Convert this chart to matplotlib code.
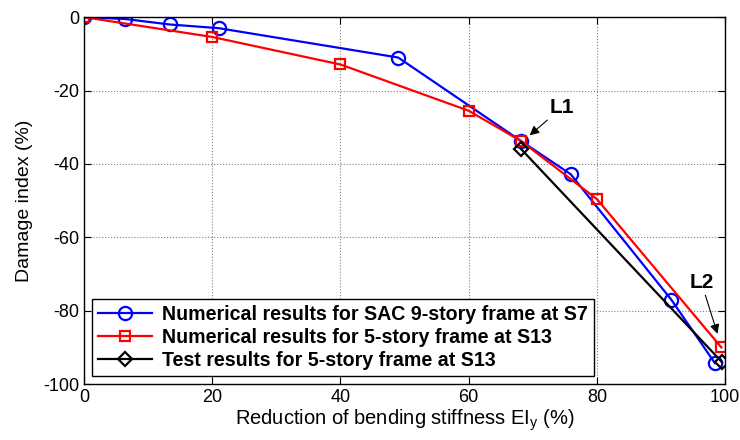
import matplotlib
matplotlib.use("Agg")
import matplotlib.pyplot as plt

plt.rcParams['font.family'] = ['Liberation Sans', 'DejaVu Sans']
plt.rcParams['axes.unicode_minus'] = False

# Data
sac_x = [0, 6.4, 13.4, 21, 49, 68.2, 75.9, 91.6, 98.4]
sac_y = [0, -0.5, -2, -3, -11, -33.8, -42.8, -77, -94.3]
five_x = [0, 20, 40, 60, 68.2, 80, 99.4]
five_y = [0, -5.4, -12.9, -25.5, -33.8, -49.6, -90]
test_x = [68.2, 99.5]
test_y = [-36, -94]
labels = ["Numerical results for SAC 9-story frame at S7",
          "Numerical results for 5-story frame at S13",
          "Test results for 5-story frame at S13"]
xticks = [0, 20, 40, 60, 80, 100]
yticks = [0, -20, -40, -60, -80, -100]

fig = plt.figure(figsize=(7.4, 4.4), dpi=100)
ax = fig.add_axes([0.1135, 0.127, 0.8665, 0.834])

ax.plot(sac_x, sac_y, color='blue', lw=1.6, marker='o', ms=9.5, mfc='none',
        mec='blue', mew=1.6, label=labels[0])
ax.plot(five_x, five_y, color='red', lw=1.6, marker='s', ms=7.5, mfc='none',
        mec='red', mew=1.6, label=labels[1])
ax.plot(test_x, test_y, color='black', lw=1.6, marker='D', ms=7, mfc='none',
        mec='black', mew=1.6, label=labels[2])

ax.set_xlim(0, 100)
ax.set_ylim(-100, 0)
ax.set_xticks(xticks)
ax.set_yticks(yticks)
ax.tick_params(direction='in', top=True, right=True, labelsize=13, length=5)
ax.grid(True, linestyle=':', color='gray', lw=0.8)
for s in ax.spines.values():
    s.set_linewidth(1.0)

ax.set_xlabel("Reduction of bending stiffness EI$_\\mathregular{y}$ (%)", fontsize=14.5, labelpad=1)
ax.set_ylabel("Damage index (%)", fontsize=14, labelpad=7)

ax.annotate("L1", xy=(69.5, -32.2), xytext=(74.5, -27.3), fontsize=15, fontweight='bold',
            ha='center', va='bottom',
            arrowprops=dict(arrowstyle='-|>', color='black', lw=0.8, mutation_scale=14,
                            shrinkA=0, shrinkB=0))
ax.annotate("L2", xy=(98.8, -86.3), xytext=(96.3, -75), fontsize=15, fontweight='bold',
            ha='center', va='bottom',
            arrowprops=dict(arrowstyle='-|>', color='black', lw=0.8, mutation_scale=14,
                            shrinkA=0, shrinkB=0))

leg = ax.legend(loc='lower left', bbox_to_anchor=(0.012, 0.022), borderaxespad=0,
                prop={'weight': 'bold', 'size': 14.1},
                fancybox=False, edgecolor='black', framealpha=1, handlelength=2.8,
                borderpad=0.3, labelspacing=0.2, handletextpad=0.5)
leg.get_frame().set_linewidth(1.0)

fig.savefig("out.png", dpi=100)
